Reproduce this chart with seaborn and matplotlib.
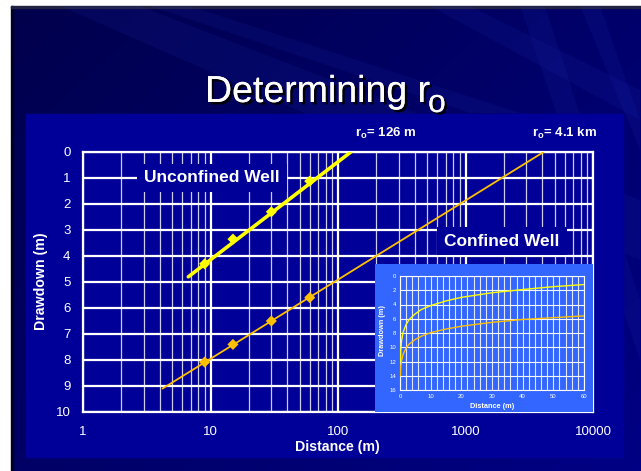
import numpy as np
import pandas as pd
import matplotlib
matplotlib.use("Agg")
import matplotlib.pyplot as plt
import seaborn as sns
from matplotlib.patches import Rectangle, Polygon
from matplotlib.ticker import LogLocator, FixedLocator, NullFormatter, MultipleLocator
import matplotlib.patheffects as pe

# ---------------- data ----------------
obs_dist = [9, 15, 30, 60]
unconf_obs = [4.3, 3.35, 2.3, 1.12]
conf_obs = [8.08, 7.4, 6.5, 5.6]

unconf_fit_dist = [6.7, 126]
unconf_fit_dd = [4.8, 0.0]
conf_fit_dist = [4.2, 4100]
conf_fit_dd = [9.1, 0.0]

inset_dist = [0.1, 0.25, 0.5, 1, 2, 3, 5, 7, 10, 15, 20, 30, 40, 50, 60]
inset_unconf = [12.0, 10.4, 9.1, 7.9, 6.8, 6.1, 5.3, 4.7, 4.15, 3.5, 3.0, 2.35, 1.9, 1.5, 1.2]
inset_conf = [14.0, 12.6, 11.9, 11.0, 10.1, 9.55, 8.9, 8.45, 7.95, 7.45, 7.05, 6.5, 6.1, 5.85, 5.6]

x_ticks = [1, 10, 100, 1000, 10000]
x_tick_labels = ["1", "10", "100", "1000", "10000"]
y_ticks = list(range(0, 11))
inset_x_ticks = [0, 10, 20, 30, 40, 50, 60]
inset_y_ticks = [0, 2, 4, 6, 8, 10, 12, 14, 16]

title_text = "Determining r"
ro_unconf = "126 m"
ro_conf = "4.1 km"

# ---------------- style ----------------
sns.set_theme(style="white")
plt.rcParams["font.family"] = ["Liberation Sans", "DejaVu Sans"]
plt.rcParams["mathtext.fontset"] = "custom"
plt.rcParams["mathtext.rm"] = "Liberation Sans"
plt.rcParams["mathtext.bf"] = "Liberation Sans:bold"

W, H = 641, 471
fig = plt.figure(figsize=(W / 100, H / 100), dpi=100)
fig.patch.set_facecolor("white")

def fx(x):
    return x / W

def fy(y):
    return 1 - y / H

# background axes (pixel coordinates)
bg = fig.add_axes([0, 0, 1, 1], zorder=-10)
bg.set_xlim(0, W)
bg.set_ylim(H, 0)
bg.axis("off")

# slide gradient
yy, xx = np.mgrid[0:H, 0:W]
t = np.clip((xx / W) * 0.55 + (yy / H) * 0.45, 0, 1)
img = np.zeros((H, W, 3))
img[..., 2] = 0.30 + 0.22 * t
bg.imshow(img, extent=(11, W, H, 6), zorder=0, aspect="auto")
bg.add_patch(Rectangle((11, 6), 2, H, color="#000022", zorder=1))
bg.add_patch(Rectangle((11, 6), W, 1.5, color="#222244", zorder=1))
# streaks
streaks = [
    [(60, 6), (140, 6), (640, 200), (640, 260)],
    [(150, 6), (190, 6), (520, 113), (470, 113)],
    [(430, 6), (470, 6), (640, 90), (640, 120)],
    [(520, 6), (545, 6), (640, 300), (640, 360)],
    [(580, 6), (600, 6), (640, 120), (640, 150)],
]
for s in streaks:
    bg.add_patch(Polygon(s, closed=True, color="#2233bb", alpha=0.12, lw=0, zorder=2))
# chart panel
bg.add_patch(Rectangle((26, 114), 597, 343, color="#000099", zorder=3))

# ---------------- main axes ----------------
ax = fig.add_axes([fx(83), fy(412), (593 - 83) / W, (412 - 152) / H], zorder=1)
ax.set_facecolor("none")
ax.set_xscale("log")

sns.lineplot(x=conf_fit_dist, y=conf_fit_dd, ax=ax, color="#FFC000", lw=1.3, zorder=5)
sns.scatterplot(x=obs_dist, y=conf_obs, ax=ax, marker="D", s=32, color="#FFC000",
                edgecolor="none", zorder=6)
sns.lineplot(x=unconf_fit_dist, y=unconf_fit_dd, ax=ax, color="#FFFF00", lw=2.6, zorder=5)
sns.scatterplot(x=obs_dist, y=unconf_obs, ax=ax, marker="D", s=32, color="#FFFF00",
                edgecolor="none", zorder=6)

ax.set_xlim(1, 10000)
ax.set_ylim(10, 0)
ax.xaxis.set_major_locator(FixedLocator(x_ticks))
ax.set_xticklabels(x_tick_labels)
ax.xaxis.set_minor_locator(LogLocator(base=10, subs=np.arange(2, 10)))
ax.xaxis.set_minor_formatter(NullFormatter())
ax.set_yticks(y_ticks)
ax.set_yticklabels([str(v) for v in y_ticks])
ax.grid(True, axis="both", which="major", color="white", lw=1.6, zorder=1)
ax.grid(True, axis="x", which="minor", color="white", lw=0.9, alpha=0.8, zorder=1)
ax.set_axisbelow(True)
ax.tick_params(axis="both", which="major", colors="white", labelcolor="white",
               labelsize=9.5, length=4, width=1.5, direction="out")
ax.tick_params(axis="x", which="major", pad=6)
ax.tick_params(axis="y", which="major", pad=5)
ax.tick_params(axis="x", which="minor", length=0)
for sp in ax.spines.values():
    sp.set_color("white")
    sp.set_linewidth(1.6)
ax.set_xlabel("")
ax.set_ylabel("")

# boxed labels
ax.text(fx(212), fy(178), "Unconfined Well", transform=fig.transFigure, ha="center",
        va="center", color="white", fontsize=12.5, fontweight="bold", zorder=4,
        bbox=dict(facecolor="#000099", edgecolor="none", pad=5))
ax.text(fx(502), fy(241), "Confined Well", transform=fig.transFigure, ha="center",
        va="center", color="white", fontsize=12.5, fontweight="bold", zorder=4,
        bbox=dict(facecolor="#000099", edgecolor="none", pad=5))

# axis labels
fig.text(fx(337), fy(447), "Distance (m)", ha="center", va="center", color="white",
         fontsize=10.2, fontweight="bold")
fig.text(fx(41), fy(281), "Drawdown (m)", ha="center", va="center", rotation=90,
         color="white", fontsize=10.2, fontweight="bold")

# title
shadow = [pe.withSimplePatchShadow(offset=(1.8, -1.8), shadow_rgbFace="black", alpha=0.9),
          pe.Normal()]
fig.text(fx(205), fy(102), title_text, ha="left", va="baseline", color="white",
         fontsize=27, path_effects=shadow)
fig.text(fx(428), fy(112), "o", ha="left", va="baseline", color="white",
         fontsize=23, path_effects=shadow)

# r_o annotations
fig.text(fx(386), fy(133), r"r$_\mathbf{o}$= " + ro_unconf, ha="center", va="center",
         color="white", fontsize=9.5, fontweight="bold")
fig.text(fx(565), fy(133), r"r$_\mathbf{o}$= " + ro_conf, ha="center", va="center",
         color="white", fontsize=9.5, fontweight="bold")

# ---------------- inset ----------------
inbg = fig.add_axes([fx(375), fy(412), (593 - 375) / W, (412 - 264) / H], zorder=2)
inbg.set_facecolor("#3366FF")
inbg.set_xticks([])
inbg.set_yticks([])
for sp in inbg.spines.values():
    sp.set_visible(False)

axi = fig.add_axes([fx(400), fy(390), (584 - 400) / W, (390 - 276) / H], zorder=3)
axi.set_facecolor("#3366FF")
sns.lineplot(x=inset_dist, y=inset_conf, ax=axi, color="#FFC000", lw=1.0, zorder=5)
sns.lineplot(x=inset_dist, y=inset_unconf, ax=axi, color="#FFFF00", lw=1.0, zorder=5)
axi.set_xlim(0, 60)
axi.set_ylim(16, 0)
axi.set_xticks(inset_x_ticks)
axi.set_yticks(inset_y_ticks)
axi.xaxis.set_minor_locator(MultipleLocator(2))
axi.grid(True, which="both", axis="x", color="white", lw=0.8, alpha=0.85)
axi.grid(True, which="major", axis="y", color="white", lw=0.8, alpha=0.95)
axi.set_axisbelow(True)
axi.tick_params(axis="both", which="both", length=0, labelsize=4.3, colors="white",
                labelcolor="white", pad=3)
for sp in axi.spines.values():
    sp.set_color("white")
    sp.set_linewidth(0.8)
axi.set_xlabel("")
axi.set_ylabel("")
fig.text(fx(492), fy(407), "Distance (m)", ha="center", va="center", color="white",
         fontsize=5.3, fontweight="bold", zorder=5)
fig.text(fx(382), fy(331), "Drawdown (m)", ha="center", va="center", rotation=90,
         color="white", fontsize=5.3, fontweight="bold", zorder=5)

fig.savefig("out.png", dpi=100, facecolor=fig.get_facecolor())
